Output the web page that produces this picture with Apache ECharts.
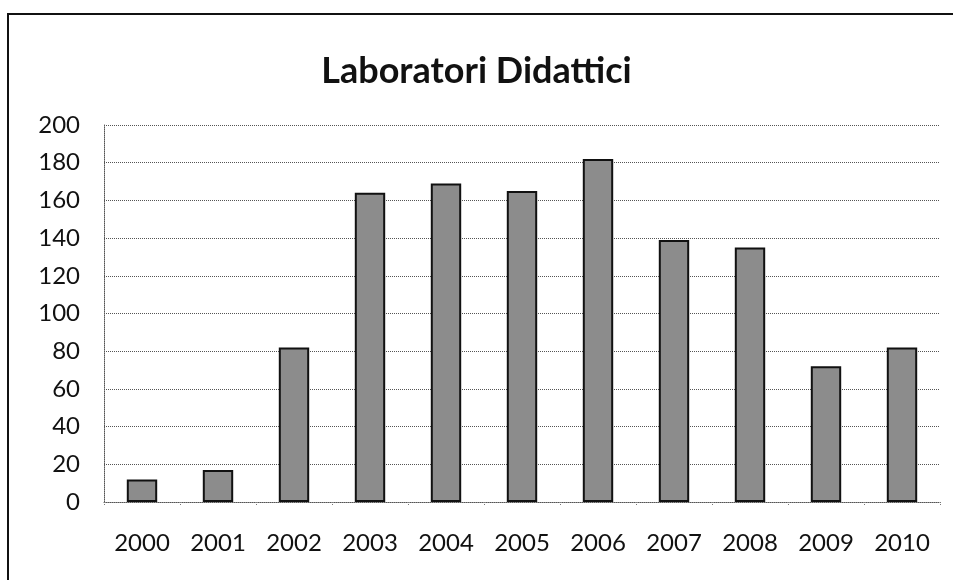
<!DOCTYPE html>
<html>
<head>
<meta charset="utf-8">
<script src="https://cdn.jsdelivr.net/npm/echarts@6/dist/echarts.min.js"></script>
<style>
  html, body { margin: 0; padding: 0; background: #fff; }
  #frame {
    position: absolute; left: 7px; top: 13px; right: 0; bottom: 0;
    border-left: 2px solid #111; border-top: 2px solid #111;
  }
  #mainChart { position: absolute; left: 0; top: 0; width: 953px; height: 580px; }
</style>
</head>
<body>
<div id="frame"></div>
<div id="mainChart"></div>
<script>
// data
var years = ['2000','2001','2002','2003','2004','2005','2006','2007','2008','2009','2010'];
var labs = [12, 17, 82, 164, 169, 165, 182, 139, 135, 72, 82];

var chart = echarts.init(document.getElementById('mainChart'));

var option = {
  backgroundColor: 'transparent',
  title: {
    text: 'Laboratori Didattici',
    left: 'center',
    top: 48,
    textStyle: { fontFamily: 'Lato', fontWeight: 'bold', fontSize: 36, color: '#111' }
  },
  grid: { left: 104, right: 13, top: 125, bottom: 78 },
  xAxis: {
    type: 'category',
    data: years,
    axisLine: { lineStyle: { color: '#555', type: 'dotted', width: 1 } },
    axisTick: { show: true, length: 4, lineStyle: { color: '#777', type: 'dotted' } },
    axisLabel: { fontFamily: 'Lato', fontSize: 24, color: '#111', margin: 29 }
  },
  yAxis: {
    type: 'value',
    min: 0, max: 200, interval: 20,
    axisLine: { show: true, lineStyle: { color: '#555', type: 'dotted', width: 1 } },
    axisTick: { show: false },
    axisLabel: { fontFamily: 'Lato', fontSize: 24, color: '#111', margin: 24 },
    splitLine: { lineStyle: { color: '#555', type: 'dotted', width: 1 } }
  },
  series: [{
    name: 'Laboratori Didattici',
    type: 'bar',
    data: labs,
    barWidth: '40%',
    itemStyle: { color: '#8c8c8c', borderColor: '#111', borderWidth: 2 }
  }]
};

chart.setOption(option);
</script>
</body>
</html>
